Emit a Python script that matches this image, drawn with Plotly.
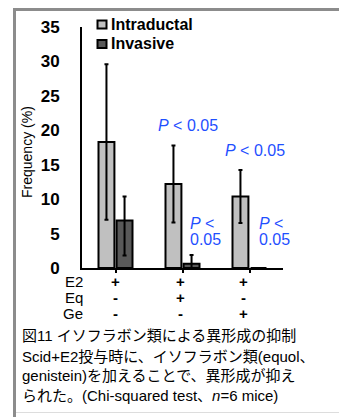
import plotly.graph_objects as go

# ---------------- data ----------------
groups = ["E2", "E2+Eq", "E2+Ge"]
series_names = ["Intraductal", "Invasive"]
series_colors = ["#c0c0c0", "#595959"]
intraductal = [18.3, 12.2, 10.4]
intraductal_err = [11.3, 5.6, 3.85]
invasive = [6.9, 0.6, 0.0]
invasive_err_up = [3.5, 1.3, 0.0]
invasive_err_down = [5.1, 0.6, 0.0]
y_ticks = [0, 5, 10, 15, 20, 25, 30, 35]
row_labels = ["E2", "Eq", "Ge"]
row_signs = [["+", "+", "+"], ["-", "+", "-"], ["-", "-", "+"]]
p_big = ["", "P < 0.05", "P < 0.05"]
caption_lines = [
    "図11 イソフラボン類による異形成の抑制",
    "Scid+E2投与時に、イソフラボン類(equol、",
    "genistein)を加えることで、異形成が抑え",
    "られた。(Chi-squared test、<i>n</i>=6 mice)",
]

# ---------------- layout geometry (window pixel coordinates) ----------------
WIN_W, WIN_H = 347, 417
OFF = 8  # default page body margin
W, H = WIN_W - OFF, WIN_H - OFF
PLOT_L, PLOT_R, PLOT_T, PLOT_B = 82, 283, 27, 268  # plot area in window px
ML, MT = PLOT_L - OFF, PLOT_T - OFF
MR, MB = WIN_W - PLOT_R, WIN_H - PLOT_B
PW = PLOT_R - PLOT_L
PH = PLOT_B - PLOT_T


def px2x(px):
    return (px - PLOT_L) / PW


def py2y(py):
    return (PLOT_B - py) / PH


FONT = "Liberation Sans, Arial, Noto Sans CJK JP, sans-serif"
BLUE = "#1f4fff"

fig = go.Figure()
fig.add_trace(go.Bar(
    x=groups, y=intraductal, name=series_names[0],
    marker=dict(color=series_colors[0], line=dict(color="black", width=2)),
    error_y=dict(type="data", array=intraductal_err, color="black", thickness=2, width=2),
))
fig.add_trace(go.Bar(
    x=groups, y=invasive, name=series_names[1],
    marker=dict(color=series_colors[1], line=dict(color="black", width=2)),
    error_y=dict(type="data", array=invasive_err_up, arrayminus=invasive_err_down,
                 color="black", thickness=2, width=2),
))

ann = []
shapes = []

# legend (drawn manually to match the compact swatch/text spacing)
leg_py = [24.5, 44]
for name, col, py in zip(series_names, series_colors, leg_py):
    shapes.append(dict(type="rect", xref="paper", yref="paper",
                       x0=px2x(97.5), x1=px2x(106.5), y0=py2y(py + 4), y1=py2y(py - 4),
                       fillcolor=col, line=dict(color="black", width=2)))
    ann.append(dict(text=name, xref="paper", yref="paper", x=px2x(109), y=py2y(py),
                    xanchor="left", yanchor="middle", showarrow=False,
                    font=dict(size=16, color="black", family=FONT, weight="bold")))

# y-axis title
ann.append(dict(text="Frequency (%)", xref="paper", yref="paper", x=px2x(27), y=py2y(152),
                xanchor="center", yanchor="middle", showarrow=False, textangle=-90,
                font=dict(size=14, color="black", family=FONT)))

# row labels and +/- table
row_py = [281.7, 297.7, 313.3]
sign_shift = [0, -2, -6]
for r, lab in enumerate(row_labels):
    ann.append(dict(text=lab, xref="paper", yref="paper", x=px2x(85), y=py2y(row_py[r]),
                    xanchor="right", yanchor="middle", showarrow=False,
                    font=dict(size=15, color="black", family=FONT)))
    for c, g in enumerate(groups):
        ann.append(dict(text=row_signs[r][c], xref="x", yref="paper", x=g, y=py2y(row_py[r]),
                        xshift=sign_shift[c], xanchor="center", yanchor="middle", showarrow=False,
                        font=dict(size=15, color="black", family=FONT, weight="bold")))

# P-value labels
big_pos = [None, (156, 125), (223, 150)]
for c, t in enumerate(p_big):
    if not t:
        continue
    px, py = big_pos[c]
    ann.append(dict(text="<i>P</i> &lt; 0.05", xref="paper", yref="paper", x=px2x(px), y=py2y(py),
                    xanchor="left", yanchor="middle", showarrow=False,
                    font=dict(size=16, color=BLUE, family=FONT)))
for px in (188, 257):
    ann.append(dict(text="<i>P</i> &lt;", xref="paper", yref="paper", x=px2x(px), y=py2y(223),
                    xanchor="left", yanchor="middle", showarrow=False,
                    font=dict(size=16, color=BLUE, family=FONT)))
    ann.append(dict(text="0.05", xref="paper", yref="paper", x=px2x(px), y=py2y(239.5),
                    xanchor="left", yanchor="middle", showarrow=False,
                    font=dict(size=16, color=BLUE, family=FONT)))

# caption
cap_py = [335.5, 356, 375.5, 395.5]
for line, py in zip(caption_lines, cap_py):
    ann.append(dict(text=line, xref="paper", yref="paper", x=px2x(20), y=py2y(py),
                    xanchor="left", yanchor="middle", showarrow=False,
                    font=dict(size=15, color="black", family=FONT)))

# frame
shapes += [
    dict(type="line", xref="paper", yref="paper", x0=px2x(14.5), x1=px2x(14.5),
         y0=py2y(8), y1=py2y(420), line=dict(color="#8c8c8c", width=3)),
    dict(type="line", xref="paper", yref="paper", x0=px2x(13), x1=px2x(350),
         y0=py2y(9.5), y1=py2y(9.5), line=dict(color="#8c8c8c", width=3)),
    dict(type="line", xref="paper", yref="paper", x0=px2x(16), x1=px2x(350),
         y0=py2y(412.5), y1=py2y(412.5), line=dict(color="#dddddd", width=1)),
]

fig.update_layout(
    width=W, height=H,
    margin=dict(l=ML, r=MR, t=MT, b=MB, autoexpand=False),
    paper_bgcolor="white", plot_bgcolor="white",
    barmode="group", bargap=0.46, bargroupgap=0.12,
    font=dict(family=FONT, color="black"),
    showlegend=False,
    annotations=ann,
    shapes=shapes,
)
fig.update_xaxes(
    showticklabels=False, showline=True, linecolor="black", linewidth=2,
    ticks="outside", ticklen=3, tickwidth=1.5, tickcolor="black",
    showgrid=False, zeroline=False, range=[-0.5, 2.5], fixedrange=True, automargin=False,
)
fig.update_yaxes(
    range=[0, 35], tickvals=y_ticks, showline=True, linecolor="black", linewidth=2,
    ticks="", showgrid=False, zeroline=False, ticklabelstandoff=17,
    tickfont=dict(size=17, color="black", family=FONT, weight="bold"),
    fixedrange=True, automargin=False,
)

fig.write_html("out.html", config=dict(displayModeBar=False))
